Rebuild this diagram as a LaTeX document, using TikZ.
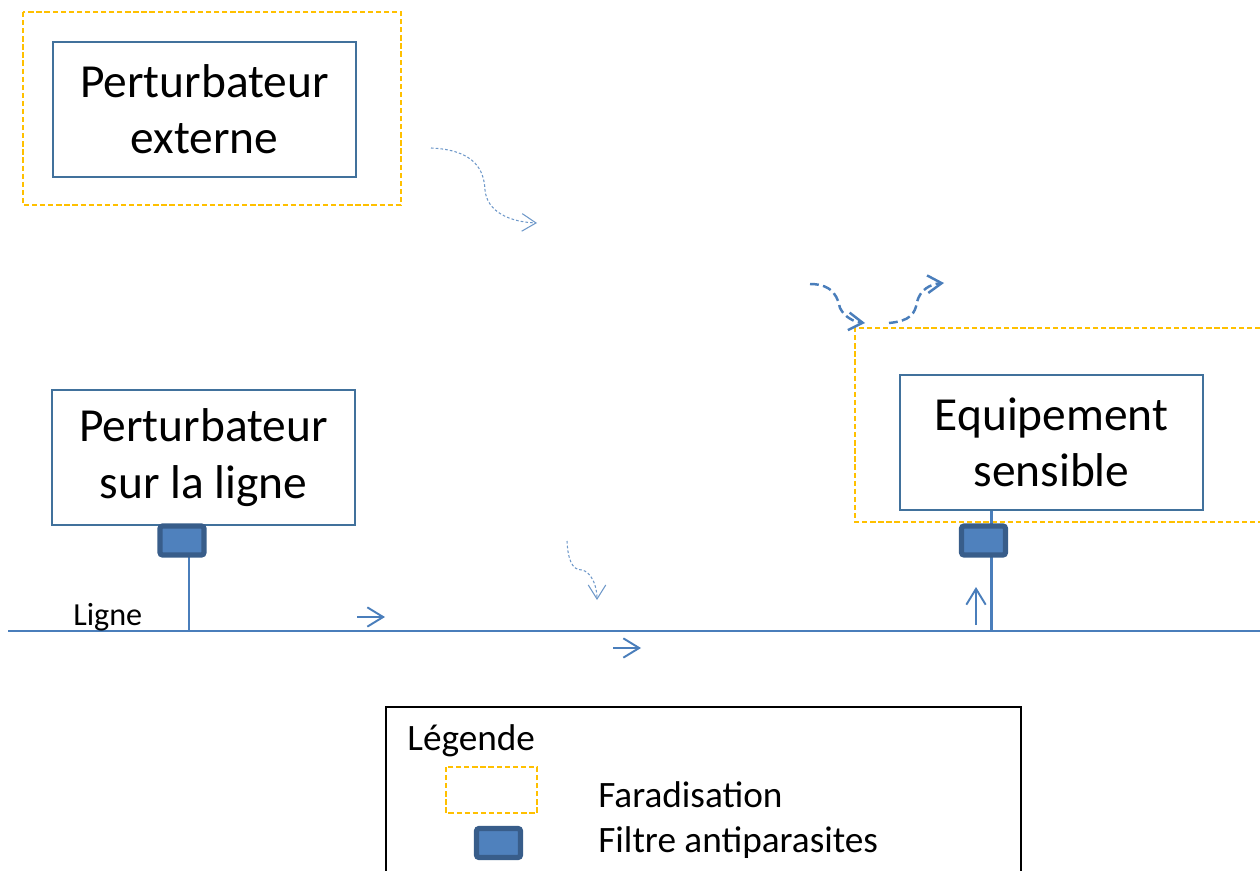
\documentclass[tikz,border=0pt]{standalone}
\usepackage{fontspec}
\setmainfont{Carlito}
\usepackage{xcolor}
\usetikzlibrary{arrows.meta}

\definecolor{bordbleu}{HTML}{41719C}
\definecolor{lignebleu}{HTML}{4A7EBB}
\definecolor{filtrefond}{HTML}{4F81BD}
\definecolor{filtrebord}{HTML}{385D8A}
\definecolor{faraday}{HTML}{FFC000}

\begin{document}
\begin{tikzpicture}[x=0.02cm,y=-0.02cm,
  boite/.style={draw=bordbleu,line width=0.8pt,minimum width=6.06cm,minimum height=2.7cm,
    align=center,inner sep=0pt,font=\fontsize{27}{32}\selectfont},
  filtre/.style={draw=filtrebord,fill=filtrefond,line width=3pt,rounded corners=1.5pt,
    minimum width=0.88cm,minimum height=0.58cm,inner sep=0pt},
  cage/.style={draw=faraday,line width=1.1pt,dash pattern=on 3pt off 1.6pt},
  ligne/.style={draw=lignebleu,line width=1.7pt},
  fleche/.style={draw=lignebleu,line width=1.1pt,-{Straight Barb[length=9pt,width=11pt]}},
  onde/.style={draw=lignebleu!80,line width=0.6pt,dash pattern=on 1.5pt off 1.2pt,
    -{Straight Barb[length=8pt,width=10pt,line width=0.6pt]}},
  ondeforte/.style={draw=lignebleu,line width=1.4pt,dash pattern=on 5pt off 2.5pt,
    -{Straight Barb[length=8pt,width=10pt,line width=1.4pt]}},
  texte/.style={anchor=west,inner sep=0pt,font=\fontsize{21.2}{25}\selectfont}]
  \useasboundingbox (0,0) rectangle (1260,871);

  % cages de Faraday
  \draw[cage] (23,12) rectangle (401,205);
  \draw[cage] (1260,328) -- (855,328) -- (855,522) -- (1260,522);

  % sources et victime
  \node[boite] (extern) at (204.5,109.5) {Perturbateur\\externe};
  \node[boite] (pertligne) at (203.5,457.5) {Perturbateur\\sur la ligne};
  \node[boite] (equip) at (1051.5,442.5) {Equipement\\sensible};

  % la ligne
  \coordinate (lgauche) at (8,631);
  \coordinate (ldroite) at (1260,631);
  \coordinate (pa) at (189,631);
  \coordinate (pb) at (991,631);
  \draw[ligne] (lgauche) -- (ldroite);
  \node[anchor=west,inner sep=0pt,font=\fontsize{18.3}{21}\selectfont] (nomligne) at (73,617) {Ligne};

  \draw[ligne] (pertligne.south -| pa) -- (pa);
  \draw[ligne] (equip.south -| pb) -- (pb);
  \node[filtre] (filtreA) at (182,540.5) {};
  \node[filtre] (filtreB) at (983.5,540.5) {};

  % couplages conduits
  \draw[fleche] (357,617) -- (385,617);
  \draw[fleche] (613,648) -- (641,648);
  \draw[fleche] (976,625) -- (976,587);

  % couplages rayonnes
  \draw[onde] (431,148) .. controls (475,150) and (484,170) .. (485,190)
    .. controls (487,212) and (510,222) .. (537,223);
  \draw[onde] (567,541) .. controls (568,560) and (572,570) .. (582,570)
    .. controls (591,572) and (597,585) .. (597,600);
  \draw[ondeforte] (810,284) .. controls (835,284) and (838,300) .. (840,308)
    .. controls (845,318) and (855,322) .. (865,323);
  \draw[ondeforte] (889,323) .. controls (910,321) and (915,314) .. (917,302)
    .. controls (920,290) and (930,284) .. (944,283);

  % legende
  \draw[draw=black,line width=0.8pt] (386,871) -- (386,707) -- (1021,707) -- (1021,871);
  \node[texte] (titrelegende) at (407,741) {Légende};
  \draw[cage] (446,767) rectangle (537,813);
  \node[filtre] (filtreleg) at (498.5,843) {};
  \node[texte] (txtcage) at (598,795) {Faradisation};
  \node[texte] (txtfiltre) at (598,843) {Filtre antiparasites};
\end{tikzpicture}
\end{document}
